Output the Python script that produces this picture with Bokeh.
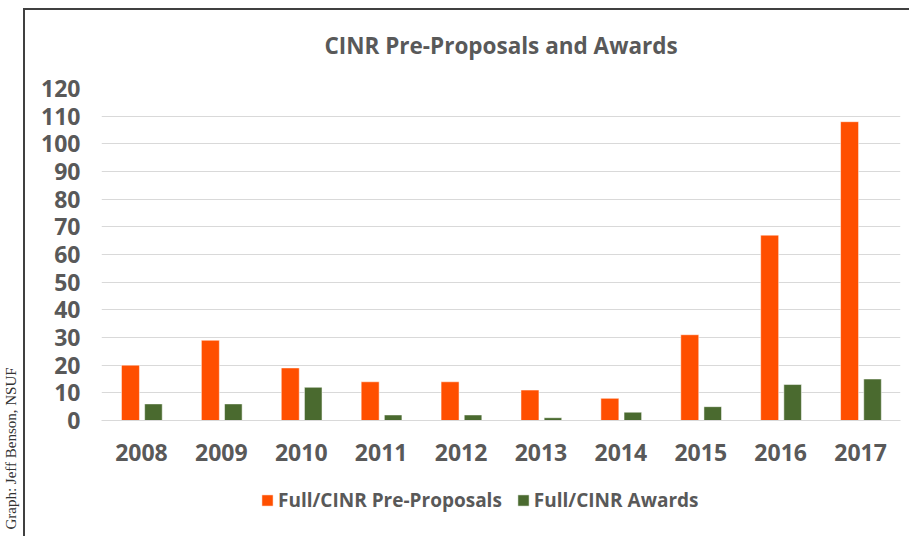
import math
from bokeh.plotting import figure
from bokeh.layouts import row, column
from bokeh.models import (Range1d, FactorRange, Legend, LegendItem, Label,
                          ColumnDataSource, FixedTicker)
from bokeh.transform import dodge
from bokeh.embed import file_html
from bokeh.resources import INLINE

# ---- data ----
years = ["2008", "2009", "2010", "2011", "2012", "2013", "2014", "2015", "2016", "2017"]
pre_proposals = [20, 29, 19, 14, 14, 11, 8, 31, 67, 108]
awards = [6, 6, 12, 2, 2, 1, 3, 5, 13, 15]
y_ticks = [0, 10, 20, 30, 40, 50, 60, 70, 80, 90, 100, 110, 120]
series_names = ["Full/CINR Pre-Proposals", "Full/CINR Awards"]
title_text = "CINR Pre-Proposals and Awards"
credit_text = "Graph: Jeff Benson, NSUF"

ORANGE = "#FF4F00"
GREEN = "#4A6A2F"
TEXT = "#595959"
GRID = "#D9D9D9"
FRAME = "#404040"
FONT = "Open Sans"


def line_bg(*parts):
    grads = [f"linear-gradient({FRAME},{FRAME}) no-repeat {x}px {y}px / {w}px {h}px"
             for (x, y, w, h) in parts]
    return ", ".join(grads) + ", white"


src = ColumnDataSource(dict(year=years, pre=pre_proposals, aw=awards))

# ---------------- main chart ----------------
p = figure(x_range=FactorRange(factors=years), y_range=Range1d(0, 120),
           width=886, height=476, output_backend="svg", toolbar_location=None,
           min_border_left=78, min_border_right=9, min_border_top=88,
           min_border_bottom=56)
p.outline_line_color = None
p.background_fill_color = "white"
p.border_fill_alpha = 0
p.styles = {"background": line_bg((0, 8, 886, 2), (0, 8, 2, 468))}

r1 = p.vbar(x=dodge("year", -0.1375, range=p.x_range), top="pre", width=0.225,
            source=src, fill_color=ORANGE, line_color="white", line_alpha=0.5)
r2 = p.vbar(x=dodge("year", 0.15, range=p.x_range), top="aw", width=0.22,
            source=src, fill_color=GREEN, line_color="white", line_alpha=0.5)

p.xgrid.grid_line_color = None
p.ygrid.grid_line_color = GRID
p.ygrid.ticker = FixedTicker(ticks=y_ticks)
p.yaxis.ticker = FixedTicker(ticks=y_ticks)
p.yaxis.axis_line_color = None
p.yaxis.major_tick_line_color = None
p.yaxis.minor_tick_line_color = None
p.yaxis.major_label_standoff = 15
p.xaxis.axis_line_color = GRID
p.xaxis.major_tick_line_color = None
p.xaxis.minor_tick_line_color = None
p.xaxis.major_label_standoff = 17
for ax in (p.xaxis, p.yaxis):
    ax.major_label_text_font = FONT
    ax.major_label_text_font_style = "bold"
    ax.major_label_text_font_size = "23px"
    ax.major_label_text_color = TEXT

p.title.text = title_text
p.title.align = "center"
p.title.text_font = FONT
p.title.text_font_style = "bold"
p.title.text_font_size = "22.5px"
p.title.text_color = TEXT
p.title.standoff = 55

# ---------------- legend strip ----------------
lg = figure(x_range=FactorRange(factors=years), y_range=Range1d(500, 600),
            width=886, height=60, output_backend="svg", toolbar_location=None,
            min_border=0)
lg.axis.visible = False
lg.grid.visible = False
lg.outline_line_color = None
lg.background_fill_alpha = 0
lg.border_fill_alpha = 0
lg.styles = {"background": line_bg((0, 0, 2, 60))}
l1 = lg.vbar(x=dodge("year", -0.1375, range=lg.x_range), top="pre", width=0.225,
             source=src, fill_color=ORANGE, line_color="white", line_alpha=0.5)
l2 = lg.vbar(x=dodge("year", 0.15, range=lg.x_range), top="aw", width=0.22,
             source=src, fill_color=GREEN, line_color="white", line_alpha=0.5)
legend = Legend(items=[LegendItem(label=series_names[0], renderers=[l1]),
                       LegendItem(label=series_names[1], renderers=[l2])],
                orientation="horizontal", location=(159, 23),
                padding=0, margin=0, spacing=14, label_standoff=4,
                glyph_width=14, glyph_height=14,
                border_line_color=None, background_fill_alpha=0,
                label_text_font=FONT, label_text_font_style="bold",
                label_text_font_size="19px", label_text_color=TEXT)
lg.add_layout(legend, "center")

# ---------------- credit strip ----------------
cr = figure(x_range=Range1d(0, 23), y_range=Range1d(0, 536),
            width=23, height=536, output_backend="svg", toolbar_location=None,
            min_border=0)
cr.axis.visible = False
cr.grid.visible = False
cr.outline_line_color = None
cr.background_fill_color = "white"
cr.border_fill_color = "white"
cr.add_layout(Label(x=10, y=88, text=credit_text, angle=math.pi / 2,
                    text_align="center", text_baseline="middle",
                    text_font="Liberation Serif", text_font_size="15px",
                    text_color="#333333"))

layout = row(cr, column(p, lg, spacing=0), spacing=0)

open("out.html", "w").write(file_html(layout, INLINE))
